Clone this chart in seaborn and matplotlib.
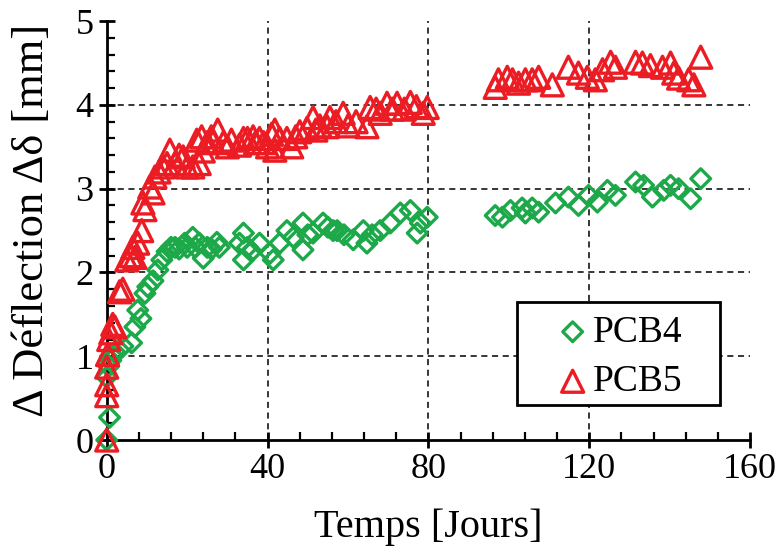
import numpy as np
import pandas as pd
import matplotlib
matplotlib.use("Agg")
import matplotlib.pyplot as plt
from matplotlib.ticker import MultipleLocator
from matplotlib.patches import Rectangle
import seaborn as sns

# PCB4 (losanges verts) - temps [jours], déflection [mm]
pcb4_days = [0, 0.7, 0, 0.5, 1.0, 1.5, 2.0, 4.0, 6.2, 7.0, 7.7, 8.5, 9.5, 10.2, 11.5, 12.7, 13.7,
             15, 16, 17, 18, 19.4, 20, 21.4, 22, 23, 24, 25, 26, 27.4, 28,
             33, 34, 34, 35, 36, 38, 40.6, 41.4, 43, 44.8, 46.4, 48.8, 48.8, 50, 51.3,
             53.8, 55, 56.3, 57.3, 59, 61.3, 63.8, 64.7, 66, 68, 70.5, 73, 75.5, 77.2, 78, 79.7,
             96.6, 98.4, 100.4, 103.3, 104.1, 105.8, 107.4, 111.6, 114.8, 117.3, 119.8, 122,
             124.5, 126.5, 131.5, 133.5, 135.7, 138.5, 140.2, 142.2, 145.2, 147.7]
pcb4_defl = [0.0, 0.27, 0.75, 0.88, 0.95, 1.0, 1.05, 1.12, 1.16, 1.35, 1.55, 1.45, 1.75, 1.83, 1.9, 2.03, 2.15,
             2.25, 2.3, 2.3, 2.28, 2.35, 2.3, 2.42, 2.3, 2.35, 2.17, 2.3, 2.28, 2.36, 2.3,
             2.35, 2.47, 2.15, 2.3, 2.25, 2.35, 2.23, 2.15, 2.35, 2.5, 2.42, 2.59, 2.27, 2.45, 2.47,
             2.59, 2.54, 2.5, 2.5, 2.45, 2.39, 2.5, 2.35, 2.45, 2.5, 2.59, 2.71, 2.74, 2.47, 2.59, 2.66,
             2.68, 2.66, 2.74, 2.77, 2.71, 2.77, 2.72, 2.83, 2.9, 2.8, 2.92, 2.84,
             2.98, 2.92, 3.08, 3.04, 2.9, 2.98, 3.04, 3.0, 2.88, 3.12]

# PCB5 (triangles rouges)
pcb5_days = [0, 0, 0, 0, 0.2, 0.5, 1.0, 1.5, 2.0, 3.2, 4.0, 5.0, 6.0, 6.5, 7.0, 7.7, 8.7, 9.0, 9.5,
             10.7, 11.5, 12, 13, 14, 15, 15.7, 17, 18, 19, 20, 21.4, 22.4, 23, 23.6, 24, 25, 26,
             26.4, 27.6, 29, 30, 31, 33, 34, 35, 36.4, 37, 38, 39, 40, 41, 41.8, 41.8, 43, 44.8,
             46, 47, 48, 49.8, 51.3, 52, 53, 54.8, 55.5, 57, 58.8, 60, 62, 64.7, 65.5, 67, 68,
             69.7, 71, 72.2, 74, 75.5, 77, 78.7, 79.7,
             96.6, 97.4, 99.6, 100.9, 102.4, 104.1, 105.8, 107.4, 110.8, 114.8, 117.3, 119.5,
             121.5, 123.3, 125.3, 126.5, 131.5, 133.2, 135.2, 138.2, 140.2, 141, 142.2, 144.7,
             146, 147.7]
pcb5_defl = [0.0, 0.53, 0.66, 0.87, 1.02, 1.2, 1.28, 1.38, 1.35, 1.77, 1.8, 2.15, 2.2, 2.3, 2.18, 2.35, 2.5, 2.83, 2.75,
             3.02, 2.95, 3.14, 3.2, 3.26, 3.3, 3.46, 3.3, 3.4, 3.38, 3.26, 3.26, 3.58, 3.3, 3.62, 3.45, 3.55, 3.62,
             3.56, 3.7, 3.55, 3.5, 3.58, 3.52, 3.6, 3.6, 3.62, 3.55, 3.6, 3.55, 3.5, 3.65, 3.46, 3.7, 3.6, 3.6,
             3.5, 3.62, 3.68, 3.72, 3.85, 3.7, 3.75, 3.74, 3.85, 3.8, 3.9, 3.75, 3.8, 3.74, 3.97, 3.95, 3.9,
             4.02, 3.95, 4.02, 3.95, 4.03, 3.98, 3.9, 3.97,
             4.21, 4.3, 4.33, 4.3, 4.26, 4.3, 4.3, 4.33, 4.24, 4.45, 4.38, 4.33,
             4.3, 4.42, 4.51, 4.45, 4.51, 4.5, 4.47, 4.45, 4.5, 4.38, 4.32, 4.3,
             4.24, 4.57]

green = "#1DA84A"
red = "#EC1C24"

sns.set_style("ticks")
plt.rcParams["font.family"] = ["Liberation Serif", "DejaVu Serif"]
for k in ["text.color", "axes.labelcolor", "xtick.color", "ytick.color", "axes.edgecolor"]:
    plt.rcParams[k] = "black"

fig = plt.figure(figsize=(7.79, 5.57), dpi=100)
ax = fig.add_axes([0.137, 0.21, 0.826, 0.752])

df4 = pd.DataFrame({"t": pcb4_days, "d": pcb4_defl})
df5 = pd.DataFrame({"t": pcb5_days, "d": pcb5_defl})

sns.scatterplot(data=df4, x="t", y="d", ax=ax, marker="D", s=100, facecolor="none",
                edgecolor=green, linewidth=2.4, label="PCB4", clip_on=False, zorder=3)
sns.scatterplot(data=df5, x="t", y="d", ax=ax, marker="^", s=250, facecolor="none",
                edgecolor=red, linewidth=2.4, label="PCB5", clip_on=False, zorder=4)

ax.set_xlim(0, 160)
ax.set_ylim(0, 5)
ax.xaxis.set_major_locator(MultipleLocator(40))
ax.xaxis.set_minor_locator(MultipleLocator(8))
ax.yaxis.set_major_locator(MultipleLocator(1))
ax.yaxis.set_minor_locator(MultipleLocator(0.2))

# grille pointillée (sans les bords)
for v in [40, 80, 120]:
    ax.axvline(v, color="black", linestyle=(0, (4, 3)), linewidth=1.1, zorder=1)
for v in [1, 2, 3, 4]:
    ax.axhline(v, color="black", linestyle=(0, (4, 3)), linewidth=1.1, zorder=1)

sns.despine(ax=ax)
for s in ["left", "bottom"]:
    ax.spines[s].set_linewidth(2.0)
ax.tick_params(which="major", direction="inout", length=11, width=2.0, labelsize=26, pad=4)
ax.tick_params(which="minor", direction="in", length=6, width=1.6)

ax.set_xlabel("Temps [Jours]", fontsize=29, labelpad=16)
ax.set_ylabel("Δ Déflection Δδ [mm]", fontsize=32)
ax.yaxis.set_label_coords(-0.085, 0.525)

# cadre de la légende
ax.add_patch(Rectangle((0.638, 0.0835), 0.315, 0.246, transform=ax.transAxes,
                       facecolor="white", edgecolor="black", linewidth=2.0, zorder=5))
leg = ax.legend(loc="center left", bbox_to_anchor=(0.660, 0.198), fontsize=27,
                frameon=False, handletextpad=-0.07, borderpad=0.0, labelspacing=0.4,
                handlelength=1.2)
leg.set_zorder(6)

fig.savefig("out.png", dpi=100)
